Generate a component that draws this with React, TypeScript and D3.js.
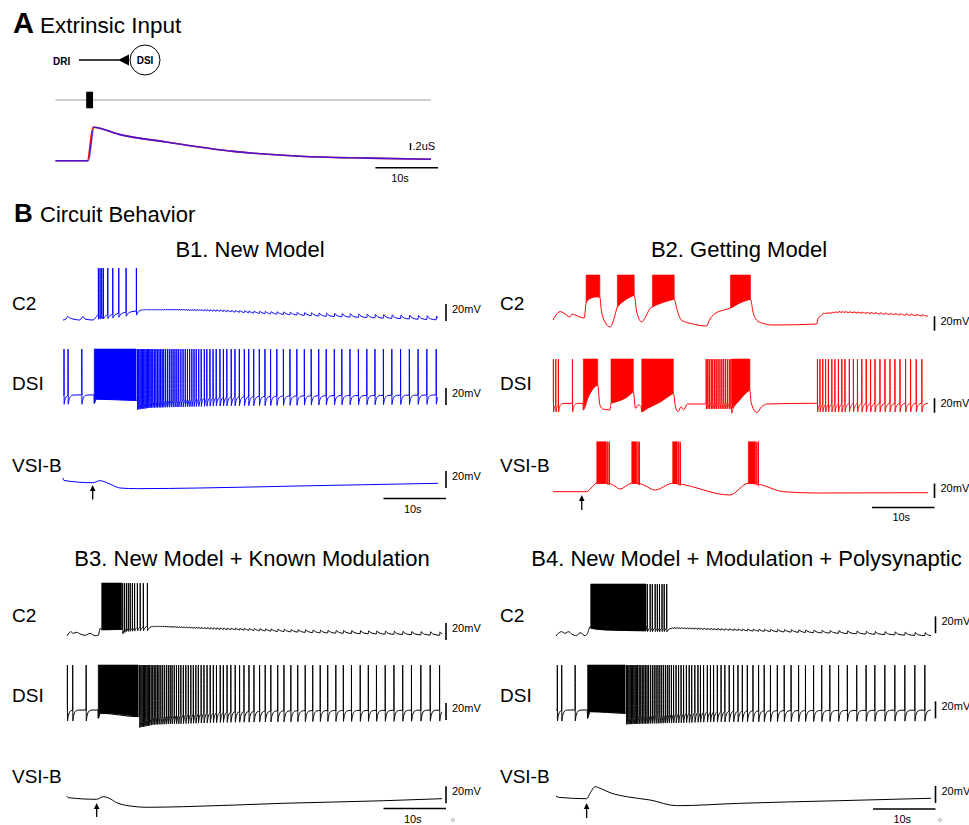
import * as d3 from "d3";

const FONT = "'Liberation Sans', Arial, Helvetica, sans-serif";
const DUR = 60; // seconds per sweep
const SWEEP_PX = 375;
const SPIKE_PEAK = 10; // mV

// ---------- A. extrinsic input ----------
const stimWindow = [4.9, 6.0];
const condTimeRed = [0, 5.1, 6.0, 10, 17.7, 28.4, 39.1, 49.8, 60];
const condTimeBlue = [0, 5.25, 6.15, 10, 17.7, 28.4, 39.1, 49.8, 60];
const condValue = [0, 0, 0.97, 0.77, 0.54, 0.27, 0.13, 0.075, 0.04]; // uS

// ---------- B1. New Model ----------
const b1C2Base = [[0, -51.2], [0.5, -50], [0.7, -47], [1.1, -48.8], [1.6, -50], [2.7, -51.2], [3.2, -47], [3.5, -50], [4.8, -51.2], [5.3, -47.6], [5.6, -45.3], [7.8, -44.1], [10.1, -41.8], [11.7, -40.6], [12.3, -39.4], [18.7, -39.6], [25, -41], [30, -43], [42.7, -47], [60, -51]];
const b1C2Spikes = [5.65, 5.92, 6.19, 6.45, 7.15, 7.95, 8.91, 10.08, 11.73];
const b1C2Ripple = [[12, 0.5], [20, 1.0], [30, 2.5], [45, 4.0], [60, 4.5]];
const b1DsiBase = [[0, -44], [4.95, -44], [5.0, -54], [5.3, -49], [11.7, -50.5], [14, -48], [25, -46], [40, -45], [60, -44]];
const b1DsiBursts = [[5.0, 11.7]];
const b1DsiSpikes = [0.15, 0.8, 3.0, 11.9, 12.1, 12.3, 12.5, 12.7, 12.9, 13.1, 13.3, 13.5, 13.7, 13.9, 14.1, 14.35, 14.6, 14.85, 15.1, 15.35, 15.6, 15.85, 16.1, 16.4, 16.7, 17.0, 17.3, 17.6, 17.9, 18.2, 18.5, 18.85, 19.2, 19.55, 19.9, 20.25, 20.6, 20.95, 21.3, 21.7, 22.1, 22.6, 23.0, 23.5, 24.0, 24.5, 25.1, 25.65, 26.2, 26.9, 27.5, 28.2, 29.0, 29.7, 30.5, 31.4, 32.3, 33.2, 34.2, 35.25, 36.3, 37.4, 38.6, 39.7, 40.9, 42.1, 43.4, 44.6, 45.9, 47.25, 48.6, 49.9, 51.25, 52.6, 54.0, 55.4, 56.8, 58.2, 59.7];
const b1VsiBase = [[0, -47.6], [0.16, -50.6], [4.8, -53.2], [5.9, -50.8], [7.5, -54.7], [9.1, -59.4], [11.8, -60.2], [21.9, -59.4], [37.9, -57], [60, -53.9]];
const b1Stim = 4.75;

// ---------- B2. Getting Model ----------
const b2C2Base = [[0, -52.1], [0.48, -45.2], [1.12, -40.6], [1.6, -41.7], [2.24, -45.9], [2.72, -47.9], [3.04, -43.8], [3.52, -45.2], [5.0, -49.3], [5.3, -28], [5.8, -23], [6.9, -20], [7.5, -20.3], [7.7, -36.5], [8.32, -54.8], [9.12, -61.7], [9.76, -50.3], [10.3, -34], [11.3, -26], [13.0, -18], [13.4, -41], [14.2, -54.8], [14.8, -47.9], [15.5, -36.5], [15.9, -34], [17.5, -28], [19.4, -23.5], [19.8, -36.5], [20.6, -52.5], [22.2, -57.2], [24.6, -60.3], [25.0, -52.5], [25.9, -43.4], [27.5, -37.9], [28.4, -35.5], [30, -28], [31.6, -23.5], [32.0, -41], [32.6, -52.5], [33.4, -56.2], [35.2, -59], [42.2, -57.6], [42.4, -50.5], [43.2, -43.8], [45.9, -41.6], [60, -47]];
const b2C2Bursts = [[5.3, 7.5], [10.3, 13.0], [15.9, 19.4], [28.4, 31.6]];
const b2C2Ripple = [[42, 1.0], [50, 2.0], [60, 2.5]];
const b2DsiBase = [[0, -51.1], [4.8, -51.1], [4.85, -60.3], [5.65, -42], [6.7, -28.2], [7.15, -25.9], [7.5, -53.4], [8.0, -59], [9.1, -60.3], [9.28, -51.1], [10.1, -48.9], [11.9, -42], [12.85, -35.1], [13.2, -58], [13.7, -53.4], [14.1, -55.8], [14.2, -62.7], [15.1, -58], [17.2, -48.9], [19.25, -37.3], [19.6, -55.8], [20.0, -62.7], [20.5, -55.8], [20.9, -60.3], [21.5, -52.1], [24.4, -52.1], [24.5, -47], [28.55, -47], [28.6, -58], [29.5, -50], [30.5, -40], [31.5, -32.8], [31.7, -50], [32.6, -63.9], [33.4, -55.8], [34.2, -52.1], [42.2, -51.1], [60, -51.1]];
const b2DsiBursts = [[4.85, 7.15], [9.28, 12.85], [14.2, 19.25], [28.6, 31.5]];
const b2DsiSpikes = [0.05, 0.43, 0.85, 3.1, 24.5, 24.75, 25.0, 25.3, 25.55, 25.85, 26.1, 26.4, 26.7, 27.0, 27.3, 27.6, 27.9, 28.2, 28.45, 42.3, 42.7, 43.15, 43.6, 44.05, 44.6, 45.1, 45.65, 46.2, 46.7, 47.4, 48.05, 48.7, 49.4, 50.1, 50.8, 51.5, 52.3, 53.1, 53.9, 54.7, 55.5, 56.4, 57.2, 58.1, 59.0];
const b2VsiBase = [[0, -58.9], [5.4, -58.9], [6.1, -53.8], [7.0, -47.3], [9.1, -47.3], [10.7, -55.2], [12.6, -47.3], [13.9, -47.3], [16.3, -56.6], [19.15, -47.3], [20.5, -48.3], [28.3, -63.4], [31.25, -47.3], [32.95, -48.3], [36.85, -58.9], [42.2, -60.7], [60, -60.3]];
const b2VsiBursts = [[7.0, 8.55], [12.6, 13.4], [19.15, 19.9], [31.25, 32.4]];
const b2VsiSpikes = [8.75, 9.0, 13.6, 13.8, 20.1, 20.35, 32.6, 32.85];
const b2Stim = 4.6;

// ---------- B3. New Model + Known Modulation ----------
const b3C2Base = [[0, -52], [0.2, -50], [0.6, -47.3], [1.0, -49.2], [1.55, -48], [2.1, -50], [2.9, -51.5], [3.7, -49.2], [4.5, -52], [5.0, -51.5], [5.3, -43.3], [5.55, -45], [8.75, -44.5], [9.5, -41], [12.85, -40], [13.3, -41], [24, -44.5], [40, -48.5], [60, -51.5]];
const b3C2Bursts = [[5.55, 8.75]];
const b3C2Spikes = [8.9, 9.2, 9.5, 9.8, 10.1, 10.45, 10.8, 11.25, 11.7, 12.2, 12.85];
const b3C2Ripple = [[13, 0.5], [20, 1.2], [30, 2.5], [45, 3.5], [60, 4]];
const b3DsiBase = [[0, -42.9], [4.95, -42.9], [5.0, -52.7], [5.35, -46.8], [11.4, -50.8], [14, -47], [25, -44.5], [40, -43.5], [60, -43]];
const b3DsiBursts = [[5.0, 11.4]];
const b3DsiSpikes = [0.05, 0.9, 3.05, 11.6, 11.8, 12.0, 12.2, 12.4, 12.6, 12.8, 13.0, 13.2, 13.45, 13.7, 13.95, 14.2, 14.45, 14.7, 15.0, 15.3, 15.6, 15.9, 16.2, 16.5, 16.8, 17.15, 17.5, 17.85, 18.2, 18.6, 19.0, 19.4, 19.8, 20.2, 20.6, 21.0, 21.45, 21.9, 22.4, 22.9, 23.4, 23.9, 24.5, 25.0, 25.6, 26.2, 26.9, 27.6, 28.3, 29.1, 29.9, 30.8, 31.7, 32.6, 33.7, 34.7, 35.8, 36.9, 38.1, 39.3, 40.5, 41.7, 43.0, 44.2, 45.5, 46.9, 48.2, 49.5, 50.9, 52.3, 53.7, 55.1, 56.6, 58.1, 59.6];
const b3VsiBase = [[0, -48.8], [0.2, -50.8], [4.75, -52.7], [5.8, -49.6], [6.6, -51], [7.95, -56.7], [10.1, -60.6], [12.75, -62.1], [18.6, -61.4], [34.6, -57.4], [50.6, -54.4], [60, -52]];
const b3Stim = 4.75;

// ---------- B4. New Model + Modulation + Polysynaptic ----------
const b4C2Base = [[0, -51.2], [0.37, -48], [0.9, -46.1], [1.45, -48], [2.0, -46.1], [2.5, -48.8], [3.3, -50.8], [3.85, -47.3], [4.65, -50.8], [5.05, -48], [5.45, -40.2], [5.55, -42], [8, -44], [14.4, -45], [14.5, -40], [17.7, -40], [18.2, -42], [29.4, -45], [45.4, -48], [60, -51]];
const b4C2Bursts = [[5.55, 14.4]];
const b4C2Spikes = [14.6, 15.05, 15.4, 15.85, 16.2, 16.55, 16.95, 17.3, 17.7];
const b4C2Ripple = [[18, 0.8], [25, 1.5], [35, 2.8], [60, 3.8]];
const b4DsiBase = [[0, -42.9], [5.0, -42.9], [5.05, -52.7], [5.45, -44.9], [11.05, -46.8], [14, -46], [25, -44], [40, -43.5], [60, -43]];
const b4DsiBursts = [[5.05, 11.05]];
const b4DsiSpikes = [0.2, 0.9, 3.05, 11.25, 11.45, 11.65, 11.85, 12.05, 12.25, 12.45, 12.65, 12.85, 13.05, 13.3, 13.55, 13.8, 14.05, 14.3, 14.55, 14.8, 15.1, 15.4, 15.7, 16.0, 16.3, 16.6, 16.9, 17.2, 17.5, 17.8, 18.1, 18.45, 18.8, 19.2, 19.6, 20.0, 20.4, 20.85, 21.3, 21.7, 22.2, 22.7, 23.1, 23.6, 24.2, 24.7, 25.2, 25.8, 26.4, 27.0, 27.7, 28.4, 29.1, 29.8, 30.6, 31.5, 32.4, 33.3, 34.3, 35.4, 36.5, 37.6, 38.8, 39.9, 41.2, 42.5, 43.8, 45.2, 46.6, 48.1, 49.6, 51.0, 52.6, 54.2, 55.8, 57.4, 59.0];
const b4VsiBase = [[0, -50], [0.37, -51.5], [4.9, -53.2], [5.45, -46.8], [6.25, -39.1], [7.05, -40.9], [8.65, -46.1], [11.3, -50.8], [15.05, -54.7], [19.3, -61.4], [29.4, -58.6], [45.4, -55.5], [60, -52.7]];
const b4Stim = 4.9;

const rowNames = ["C2", "DSI", "VSI-B"];

// trace descriptions (ahp / tau only shape the drawn spike)
const mk = (base, spikes = [], bursts = [], ahp = 0, tau = 0.2, psp = null, pspFrom = 0, pspAmp = null) =>
    ({base, spikes, bursts, ahp, tau, psp, pspFrom, pspAmp});

const panels = [
    {title: "B1. New Model", titleX: 250, titleY: 257, color: "#0000ff", x0: 63, k: 0.85, labelX: 12, labelY: [310, 390, 472],
        rows: [
            {tr: mk(b1C2Base, b1C2Spikes, [], 5, 0.3, b1DsiSpikes, 12, b1C2Ripple), zeroY: 276.5, bar: 321},
            {tr: mk(b1DsiBase, b1DsiSpikes, b1DsiBursts, 11, 0.2), zeroY: 357.5, bar: 405},
            {tr: mk(b1VsiBase), zeroY: 437.5, bar: 488},
        ], barX: 446, timeBarY: 498.5, timeLabelY: 513, stim: b1Stim, arrow: [485, 499.5]},
    {title: "B2. Getting Model", titleX: 739, titleY: 257, color: "#ff0000", x0: 553, k: 0.725, labelX: 500, labelY: [310, 390, 472],
        rows: [
            {tr: mk(b2C2Base, [], b2C2Bursts, 5, 0.3, b2DsiSpikes, 42.3, b2C2Ripple), zeroY: 282.25, bar: 330.7},
            {tr: mk(b2DsiBase, b2DsiSpikes, b2DsiBursts, 12, 0.2), zeroY: 366.25, bar: 412.7},
            {tr: mk(b2VsiBase, b2VsiSpikes, b2VsiBursts, 2, 0.1), zeroY: 449, bar: 498},
        ], barX: 934.5, timeBarY: 507.5, timeLabelY: 521, stim: b2Stim, arrow: [495, 510]},
    {title: "B3. New Model + Known Modulation", titleX: 252, titleY: 566, color: "#000000", x0: 67, k: 0.85, labelX: 12, labelY: [622, 702, 783],
        rows: [
            {tr: mk(b3C2Base, b3C2Spikes, b3C2Bursts, 6, 0.3, b3DsiSpikes, 13.2, b3C2Ripple), zeroY: 591.5, bar: 640},
            {tr: mk(b3DsiBase, b3DsiSpikes, b3DsiBursts, 13, 0.2), zeroY: 673.5, bar: 720},
            {tr: mk(b3VsiBase), zeroY: 754.5, bar: 803.3},
        ], barX: 446, timeBarY: 808.5, timeLabelY: 822.5, stim: b3Stim, arrow: [803, 817]},
    {title: "B4. New Model + Modulation + Polysynaptic", titleX: 746.5, titleY: 566, color: "#000000", x0: 556, k: 0.85, labelX: 500, labelY: [622, 702, 783],
        rows: [
            {tr: mk(b4C2Base, b4C2Spikes, b4C2Bursts, 6, 0.3, b4DsiSpikes, 18, b4C2Ripple), zeroY: 592.5, bar: 633.3},
            {tr: mk(b4DsiBase, b4DsiSpikes, b4DsiBursts, 13, 0.2), zeroY: 673.5, bar: 718.3},
            {tr: mk(b4VsiBase), zeroY: 753.5, bar: 803},
        ], barX: 935.5, timeBarY: 809, timeLabelY: 823, stim: b4Stim, arrow: [803, 818]},
];

const RISE = 0.012, FALL = 0.035, PSP_RISE = 0.08;
const RECOVERY_STEPS = [0.04, 0.1, 0.2, 0.35, 0.6, 0.9];
const PSP_STEPS = [0.25, 0.6];

function baseScale(tr) {
    return d3.scaleLinear().domain(tr.base.map(d => d[0])).range(tr.base.map(d => d[1])).clamp(true);
}

// membrane potential samples: base + spikes with AHP + small psps
function sampleTrace(tr) {
    const base = baseScale(tr);
    const spikes = [...tr.spikes].sort(d3.ascending);
    const psp = (tr.psp || []).filter(t => t >= tr.pspFrom).sort(d3.ascending);
    const amp = tr.pspAmp
        ? d3.scaleLinear().domain(tr.pspAmp.map(d => d[0])).range(tr.pspAmp.map(d => d[1])).clamp(true)
        : () => 0;

    const f = (t) => {
        let v = base(t);
        const i = d3.bisectRight(spikes, t) - 1;
        if (i >= 0) {
            const d = t - spikes[i];
            v -= d >= FALL ? tr.ahp * Math.exp(-(d - FALL) / tr.tau) : tr.ahp;
        }
        const j = d3.bisectRight(psp, t) - 1;
        if (j >= 0) {
            const d = t - psp[j];
            v += amp(psp[j]) * (d < PSP_RISE ? d / PSP_RISE : Math.exp(-(d - PSP_RISE) / 0.35));
        }
        return v;
    };
    const inSpike = (t) => {
        const i = d3.bisectRight(spikes, t) - 1;
        return i >= 0 && t - spikes[i] < FALL;
    };
    const events = [...spikes, ...psp].sort(d3.ascending);
    const nextEvent = (t) => {
        const i = d3.bisectRight(events, t + 1e-6);
        return i < events.length ? events[i] : DUR;
    };

    const ts = [0, DUR];
    tr.base.forEach(([t]) => ts.push(t));
    spikes.forEach(s => {
        const lim = nextEvent(s) - 0.01;
        RECOVERY_STEPS.forEach(d => { if (s + FALL + d < lim) ts.push(s + FALL + d); });
    });
    psp.forEach(p => {
        const lim = nextEvent(p) - 0.01;
        ts.push(p + 1e-4);
        [PSP_RISE, ...PSP_STEPS].forEach(d => { if (p + d < lim) ts.push(p + d); });
    });

    const pts = ts.filter(t => t >= 0 && t <= DUR && !inSpike(t)).map(t => [t, f(t)]);
    spikes.forEach(s => {
        pts.push([s - 1e-4, f(s - 1e-4)], [s + RISE, SPIKE_PEAK], [s + FALL, f(s + FALL)]);
    });
    pts.sort((a, b) => a[0] - b[0]);
    return pts.filter((p, i) => i === 0 || p[0] - pts[i - 1][0] > 1e-6);
}

function burstSamples(tr, t0, t1) {
    const base = baseScale(tr);
    const ts = [t0, ...tr.base.map(d => d[0]).filter(t => t > t0 && t < t1), t1];
    return ts.map(t => [t, base(t)]);
}

const Panel = ({p}) => {
    const x = d3.scaleLinear().domain([0, DUR]).range([p.x0, p.x0 + SWEEP_PX]);
    const tenS = x(10) - x(0);
    return (
        <g>
            <text x={p.titleX} y={p.titleY} textAnchor="middle" fontSize={22} fontFamily={FONT}>{p.title}</text>
            {p.rows.map((r, i) => {
                const y = d3.scaleLinear().domain([0, 10]).range([r.zeroY, r.zeroY - 10 * p.k]);
                const line = d3.line().x(d => x(d[0])).y(d => y(d[1])).curve(d3.curveMonotoneX);
                const area = d3.area().x(d => x(d[0])).y0(d => y(d[1])).y1(y(SPIKE_PEAK)).curve(d3.curveMonotoneX);
                const barH = y(0) - y(20);
                return (
                    <g key={i}>
                        <text x={p.labelX} y={p.labelY[i]} fontSize={19} fontFamily={FONT}>{rowNames[i]}</text>
                        {r.tr.bursts.map((b, j) => (
                            <path key={j} d={area(burstSamples(r.tr, b[0], b[1]))} fill={p.color} stroke={p.color} strokeWidth={0.6}/>
                        ))}
                        <path d={line(sampleTrace(r.tr))} fill="none" stroke={p.color} strokeWidth={1} strokeLinejoin="round"/>
                        <line x1={p.barX} x2={p.barX} y1={r.bar} y2={r.bar - barH} stroke="#000" strokeWidth={1.6}/>
                        <text x={p.barX + 6} y={r.bar - barH + 8.5} fontSize={11} fontFamily={FONT}>20mV</text>
                    </g>
                );
            })}
            <line x1={p.barX - tenS} x2={p.barX} y1={p.timeBarY} y2={p.timeBarY} stroke="#000" strokeWidth={1.5}/>
            <text x={p.barX - tenS / 2 - 2} y={p.timeLabelY} textAnchor="middle" fontSize={11} fontFamily={FONT}>10s</text>
            <line x1={x(p.stim)} x2={x(p.stim)} y1={p.arrow[0] + 4} y2={p.arrow[1]} stroke="#000" strokeWidth={1.3}/>
            <path d={`M${x(p.stim)},${p.arrow[0]}L${x(p.stim) - 2.8},${p.arrow[0] + 6}L${x(p.stim) + 2.8},${p.arrow[0] + 6}Z`} fill="#000"/>
        </g>
    );
};

const PanelA = () => {
    const x = d3.scaleLinear().domain([0, DUR]).range([55.5, 431]);
    const g = d3.scaleLinear().domain([0, 1]).range([160.7, 126.2]);
    const lineRed = d3.line().x((d, i) => x(condTimeRed[i])).y(d => g(d)).curve(d3.curveMonotoneX);
    const lineBlue = d3.line().x((d, i) => x(condTimeBlue[i])).y(d => g(d)).curve(d3.curveMonotoneX);
    const tenS = x(10) - x(0);
    return (
        <g>
            <text x={13} y={33} fontSize={29} fontWeight="bold" fontFamily={FONT}>A</text>
            <text x={40} y={33} fontSize={22.5} fontFamily={FONT}>Extrinsic Input</text>
            <text x={53} y={64.5} fontSize={10} fontWeight="bold" fontFamily={FONT}>DRI</text>
            <line x1={79} x2={119} y1={60} y2={60} stroke="#000" strokeWidth={1.5}/>
            <path d="M118,60L129,54.5L129,65.5Z" fill="#000"/>
            <circle cx={145} cy={60} r={15} fill="#fff" stroke="#000" strokeWidth={1}/>
            <text x={145} y={63.8} textAnchor="middle" fontSize={10} fontWeight="bold" fontFamily={FONT}>DSI</text>

            <line x1={x(0)} x2={x(DUR)} y1={100} y2={100} stroke="#888" strokeWidth={0.8}/>
            <rect x={x(stimWindow[0])} width={x(stimWindow[1]) - x(stimWindow[0])} y={91.7} height={16.6} fill="#000"/>

            <path d={lineRed(condValue)} fill="none" stroke="#ff0000" strokeWidth={1.6}/>
            <path d={lineBlue(condValue)} fill="none" stroke="#1a1aff" strokeWidth={1.6} opacity={0.8}/>

            <line x1={410.5} x2={410.5} y1={150} y2={150 - (g(0) - g(0.2))} stroke="#000" strokeWidth={1.4}/>
            <text x={412.5} y={150} fontSize={11} fontFamily={FONT}>.2uS</text>
            <line x1={438 - tenS} x2={438} y1={167.7} y2={167.7} stroke="#000" strokeWidth={1.5}/>
            <text x={400} y={181.5} textAnchor="middle" fontSize={11} fontFamily={FONT}>10s</text>
        </g>
    );
};

export default function App() {
    return (
        <svg width={969} height={825} style={{position: "absolute", left: 0, top: 0, background: "#fff"}}>
            <PanelA/>
            <text x={14} y={221.7} fontSize={26} fontWeight="bold" fontFamily={FONT}>B</text>
            <text x={40} y={221.7} fontSize={22} fontFamily={FONT}>Circuit Behavior</text>
            {panels.map((p, i) => <Panel key={i} p={p}/>)}
            <circle cx={453} cy={820} r={1.5} fill="none" stroke="#999" strokeWidth={0.7}/>
            <circle cx={940} cy={820} r={1.5} fill="none" stroke="#999" strokeWidth={0.7}/>
        </svg>
    );
}
